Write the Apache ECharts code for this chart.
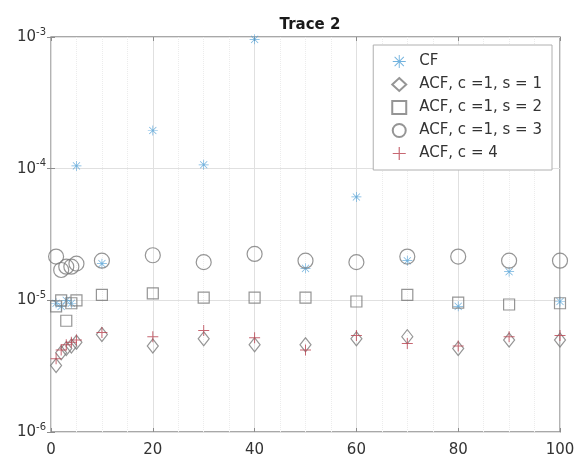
<!DOCTYPE html>
<html>
<head>
<meta charset="utf-8">
<script src="https://cdn.jsdelivr.net/npm/echarts@6/dist/echarts.min.js"></script>
<style>
  html, body { margin: 0; padding: 0; background: #fff; }
  #chart { width: 578px; height: 458px; }
</style>
</head>
<body>
<div id="chart"></div>
<script>
// Lag values shared by every series
const lags = [1, 2, 3, 4, 5, 10, 20, 30, 40, 50, 60, 70, 80, 90, 100];

// Error per lag for each estimator
const cfValues   = [9.5e-6, 9.0e-6, 1.0e-5, 9.5e-6, 1.05e-4, 1.9e-5, 1.95e-4, 1.07e-4, 9.6e-4, 1.75e-5, 6.1e-5, 2.0e-5, 9.0e-6, 1.65e-5, 9.8e-6];
const acfS1      = [3.2e-6, 4.0e-6, 4.3e-6, 4.5e-6, 4.8e-6, 5.5e-6, 4.5e-6, 5.1e-6, 4.6e-6, 4.6e-6, 5.1e-6, 5.3e-6, 4.3e-6, 5.0e-6, 5.0e-6];
const acfS2      = [9.0e-6, 1.0e-5, 7.0e-6, 9.5e-6, 1.0e-5, 1.1e-5, 1.13e-5, 1.05e-5, 1.05e-5, 1.05e-5, 9.8e-6, 1.1e-5, 9.6e-6, 9.3e-6, 9.5e-6];
const acfS3      = [2.15e-5, 1.7e-5, 1.8e-5, 1.8e-5, 1.9e-5, 2.0e-5, 2.2e-5, 1.95e-5, 2.25e-5, 2.0e-5, 1.95e-5, 2.15e-5, 2.15e-5, 2.0e-5, 2.0e-5];
const acfC4      = [3.6e-6, 4.2e-6, 4.6e-6, 4.8e-6, 5.0e-6, 5.7e-6, 5.3e-6, 5.9e-6, 5.2e-6, 4.2e-6, 5.4e-6, 4.7e-6, 4.5e-6, 5.3e-6, 5.4e-6];

// Axis ticks
const xTicks = [0, 20, 40, 60, 80, 100];
const yDecades = [-6, -5, -4, -3];
const seriesNames = ['CF', 'ACF, c =1, s = 1', 'ACF, c =1, s = 2', 'ACF, c =1, s = 3', 'ACF, c = 4'];

// Minor log grid positions (2..9 within each decade)
const minorY = [];
for (let d = yDecades[0]; d < yDecades[yDecades.length - 1]; d++) {
  for (let m = 2; m <= 9; m++) minorY.push(m * Math.pow(10, d));
}

const pairs = vals => lags.map((x, i) => [x, vals[i]]);

const asterisk = 'path://M-0.7,-10L0.7,-10L0.7,10L-0.7,10Z M-10,-0.7L10,-0.7L10,0.7L-10,0.7Z M-7.6,-6.6L-6.6,-7.6L7.6,6.6L6.6,7.6Z M6.6,-7.6L7.6,-6.6L-6.6,7.6L-7.6,6.6Z';
const plus = 'path://M-0.9,-10L0.9,-10L0.9,-0.9L10,-0.9L10,0.9L0.9,0.9L0.9,10L-0.9,10L-0.9,0.9L-10,0.9L-10,-0.9L-0.9,-0.9Z';

const blue = '#4d9fd6';
const gray = '#7a7a7a';
const red = '#b9414f';
const axisGray = '#8c8c8c';
const font = 'DejaVu Sans, Liberation Sans, sans-serif';

const tickStyle = { show: true, inside: true, length: 4, lineStyle: { color: axisGray } };

const chart = echarts.init(document.getElementById('chart'), null, { renderer: 'canvas' });

chart.setOption({
  animation: false,
  backgroundColor: '#fff',
  title: {
    text: 'Trace 2',
    left: 305, top: 13, textAlign: 'center',
    textStyle: { fontFamily: font, fontSize: 15, fontWeight: 'bold', color: '#1a1a1a' }
  },
  grid: {
    left: 51, right: 18, top: 37, bottom: 22,
    show: true, borderColor: axisGray, borderWidth: 1.3, backgroundColor: '#fff'
  },
  legend: {
    orient: 'vertical',
    right: 26, top: 45,
    data: seriesNames,
    backgroundColor: '#fff',
    borderColor: '#b0b0b0', borderWidth: 1,
    padding: [9, 10, 9, 18],
    itemGap: 8, itemWidth: 14, itemHeight: 13,
    textStyle: { fontFamily: font, fontSize: 15, color: '#333', padding: [0, 0, 0, 8] }
  },
  xAxis: [
    {
      type: 'value', min: 0, max: 100, interval: 20,
      axisLine: { show: false },
      axisTick: tickStyle,
      minorTick: { show: false, splitNumber: 4 },
      axisLabel: { fontFamily: font, fontSize: 15, color: '#333', margin: 11,
                   formatter: v => xTicks.includes(v) ? String(v) : '' },
      splitLine: { show: true, lineStyle: { color: '#e0e0e0', width: 1 } },
      minorSplitLine: { show: true, lineStyle: { color: '#ececec', type: 'dotted' } }
    },
    {
      type: 'value', position: 'top', min: 0, max: 100, interval: 20,
      axisLine: { show: false }, axisTick: tickStyle,
      axisLabel: { show: false }, splitLine: { show: false }
    }
  ],
  yAxis: [
    {
      type: 'log', logBase: 10, min: 1e-6, max: 1e-3,
      axisLine: { show: false },
      axisTick: tickStyle,
      axisLabel: {
        margin: 5,
        formatter: v => '{b|10}{s|' + Math.round(Math.log10(v)) + '}',
        rich: {
          b: { fontFamily: font, fontSize: 15, color: '#333' },
          s: { fontFamily: font, fontSize: 10, color: '#333', padding: [0, 0, 10, 0] }
        }
      },
      splitLine: { show: true, lineStyle: { color: '#e0e0e0', width: 1 } }
    },
    {
      type: 'log', logBase: 10, min: 1e-6, max: 1e-3, position: 'right',
      axisLine: { show: false }, axisTick: tickStyle,
      axisLabel: { show: false }, splitLine: { show: false }
    }
  ],
  series: [
    {
      name: '_minor', type: 'scatter', data: [], silent: true,
      markLine: {
        silent: true, symbol: 'none', animation: false,
        label: { show: false },
        lineStyle: { color: '#dcdcdc', type: 'dotted', width: 1 },
        data: minorY.map(v => ({ yAxis: v }))
      }
    },
    {
      name: seriesNames[0], type: 'scatter', data: pairs(cfValues),
      symbol: asterisk, symbolSize: 10,
      itemStyle: { color: blue }
    },
    {
      name: seriesNames[1], type: 'scatter', data: pairs(acfS1),
      symbol: 'diamond', symbolSize: [11, 14],
      itemStyle: { color: 'rgba(255,255,255,0)', borderColor: gray, borderWidth: 1.2 }
    },
    {
      name: seriesNames[2], type: 'scatter', data: pairs(acfS2),
      symbol: 'rect', symbolSize: 11,
      itemStyle: { color: 'rgba(255,255,255,0)', borderColor: gray, borderWidth: 1.2 }
    },
    {
      name: seriesNames[3], type: 'scatter', data: pairs(acfS3),
      symbol: 'circle', symbolSize: 15,
      itemStyle: { color: 'rgba(255,255,255,0)', borderColor: gray, borderWidth: 1.2 }
    },
    {
      name: seriesNames[4], type: 'scatter', data: pairs(acfC4),
      symbol: plus, symbolSize: 11,
      itemStyle: { color: red }
    }
  ]
});
</script>
</body>
</html>
